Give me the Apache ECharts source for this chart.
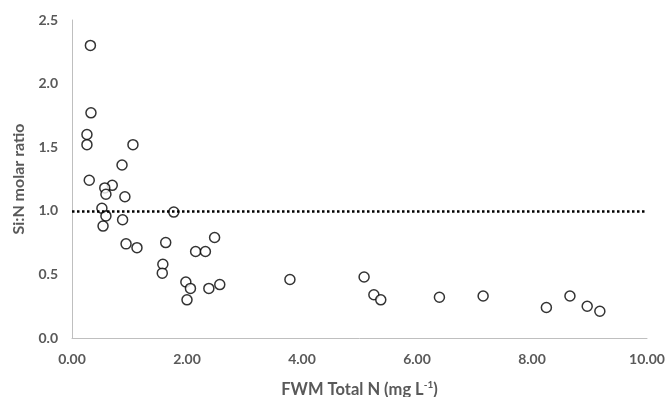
<!DOCTYPE html>
<html>
<head>
<meta charset="utf-8">
<script src="https://cdn.jsdelivr.net/npm/echarts@6/dist/echarts.min.js"></script>
<style>html,body{margin:0;padding:0;background:#fff}#c{width:666px;height:397px}</style>
</head>
<body>
<div id="c"></div>
<script>
const totalN = [0.32,0.33,0.26,0.26,1.06,0.87,0.30,0.70,0.57,0.59,0.92,0.52,0.59,0.88,0.54,1.77,0.94,1.13,1.63,1.58,1.57,2.15,2.32,2.48,1.98,2.06,2.00,2.38,2.57,3.79,5.08,5.25,5.37,6.39,7.15,8.25,8.66,8.96,9.18];
const siN = [2.30,1.77,1.60,1.52,1.52,1.36,1.24,1.20,1.18,1.13,1.11,1.02,0.96,0.93,0.88,0.99,0.74,0.71,0.75,0.58,0.51,0.68,0.68,0.79,0.44,0.39,0.30,0.39,0.42,0.46,0.48,0.34,0.30,0.32,0.33,0.24,0.33,0.25,0.21];
const referenceRatio = 1.0;
const xTicks = {min:0, max:10, interval:2};
const yTicks = {min:0, max:2.5, interval:0.5};

const points = totalN.map((x,i)=>[x, siN[i]]);
const font = 'Lato, "Open Sans", sans-serif';
const chart = echarts.init(document.getElementById('c'));
chart.setOption({
  animation:false,
  grid:{left:72,right:19,top:20,bottom:59,containLabel:false,outerBoundsMode:'none'},
  xAxis:{
    type:'value', min:xTicks.min, max:xTicks.max, interval:xTicks.interval,
    axisLine:{show:true,lineStyle:{color:'#bfbfbf',width:1}},
    axisTick:{show:false}, splitLine:{show:false},
    axisLabel:{color:'#595959',fontFamily:font,fontWeight:'bold',fontSize:14,margin:14,formatter:v=>v.toFixed(2)},
    name:'{a|FWM Total N (mg L}{s|-1}{a|)}', nameLocation:'middle', nameGap:42,
    nameTextStyle:{rich:{a:{color:'#595959',fontFamily:font,fontWeight:'bold',fontSize:16.5},s:{color:'#595959',fontFamily:font,fontWeight:'bold',fontSize:10,verticalAlign:'top',padding:[0,0,9,0]}}}
  },
  yAxis:{
    type:'value', min:yTicks.min, max:yTicks.max, interval:yTicks.interval,
    axisLine:{show:true,lineStyle:{color:'#bfbfbf',width:1}},
    axisTick:{show:false}, splitLine:{show:false},
    axisLabel:{color:'#595959',fontFamily:font,fontWeight:'bold',fontSize:14,margin:14,formatter:v=>v.toFixed(1)},
    name:'Si:N molar ratio', nameLocation:'middle', nameGap:45,
    nameTextStyle:{color:'#595959',fontFamily:font,fontWeight:'bold',fontSize:16}
  },
  series:[{
    type:'scatter', data:points, symbol:'circle', symbolSize:10,
    itemStyle:{color:'#fff',borderColor:'#000',borderWidth:1.5},
    markLine:{silent:true,symbol:'none',label:{show:false},
      lineStyle:{color:'#000',type:[2.5,2.5],width:2.5},
      data:[{yAxis:referenceRatio}]}
  }]
});
</script>
</body>
</html>
